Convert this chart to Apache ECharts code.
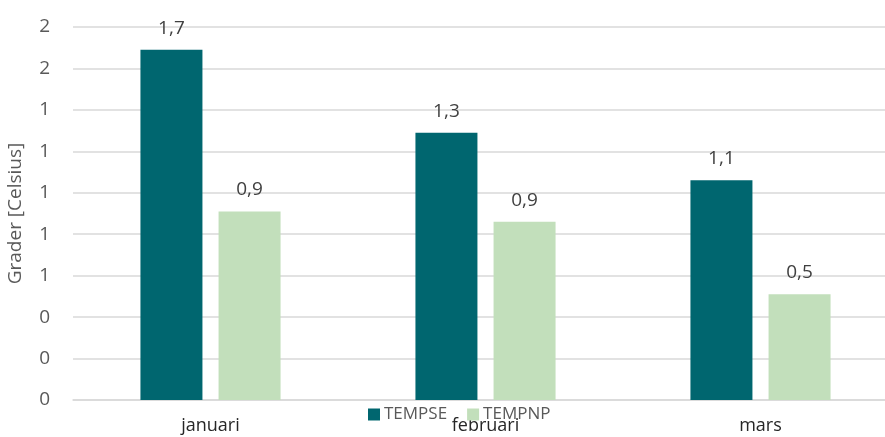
<!DOCTYPE html>
<html>
<head>
<meta charset="utf-8">
<script src="https://cdn.jsdelivr.net/npm/echarts@6/dist/echarts.min.js"></script>
<style>
  html, body { margin: 0; padding: 0; background: #ffffff; }
  #chart { width: 885px; height: 437px; }
</style>
</head>
<body>
<div id="chart"></div>
<script>
// Monthly temperature deviation, two stations
const months = ['januari', 'februari', 'mars'];
const tempSE = [1.69, 1.29, 1.06];
const tempNP = [0.91, 0.86, 0.51];
const seriesNames = ['TEMPSE', 'TEMPNP'];
// Axis labels are shown rounded to whole degrees
const yTickLabels = ['0', '0', '0', '1', '1', '1', '1', '1', '2', '2'];

const FONT = '"Open Sans", "Noto Sans", sans-serif';
const fmtValue = v => v.toFixed(1).replace('.', ',');

const chart = echarts.init(document.getElementById('chart'), null, { renderer: 'canvas' });

const labelStyle = {
  show: true,
  position: 'top',
  distance: 12,
  fontFamily: FONT,
  fontSize: 19,
  color: '#404040',
  formatter: p => fmtValue(p.value)
};

chart.setOption({
  animation: false,
  backgroundColor: '#ffffff',
  // plot area runs a little past the right edge of the canvas
  grid: { left: 73, width: 825, top: 27, bottom: 37, outerBoundsMode: 'none', containLabel: false },
  legend: {
    data: seriesNames,
    left: 363,
    top: 401,
    itemWidth: 12,
    itemHeight: 12,
    itemGap: 20,
    icon: 'rect',
    textStyle: { fontFamily: FONT, fontSize: 17, color: '#595959', padding: [0, 0, 0, -1] }
  },
  xAxis: {
    type: 'category',
    data: months,
    axisLine: { show: true, lineStyle: { color: '#d9d9d9', width: 1.5 } },
    axisTick: { show: false },
    axisLabel: { fontFamily: FONT, fontSize: 18, color: '#262626', margin: 17 }
  },
  yAxis: {
    type: 'value',
    min: 0,
    max: 1.8,
    interval: 0.2,
    name: 'Grader [Celsius]',
    nameLocation: 'middle',
    nameGap: 48,
    nameRotate: 90,
    nameTextStyle: { fontFamily: FONT, fontSize: 19, color: '#595959' },
    axisLine: { show: false },
    axisTick: { show: false },
    splitLine: { lineStyle: { color: '#d9d9d9', width: 1.5 } },
    axisLabel: {
      fontFamily: FONT,
      fontSize: 19,
      color: '#595959',
      margin: 23,
      formatter: (v) => yTickLabels[Math.round(v / 0.2)]
    }
  },
  series: [
    {
      name: seriesNames[0],
      type: 'bar',
      data: tempSE,
      barWidth: 62,
      barGap: '26%',
      itemStyle: { color: '#00666f' },
      label: labelStyle
    },
    {
      name: seriesNames[1],
      type: 'bar',
      data: tempNP,
      barWidth: 62,
      itemStyle: { color: '#c2dfbb' },
      label: labelStyle
    }
  ]
});
</script>
</body>
</html>
